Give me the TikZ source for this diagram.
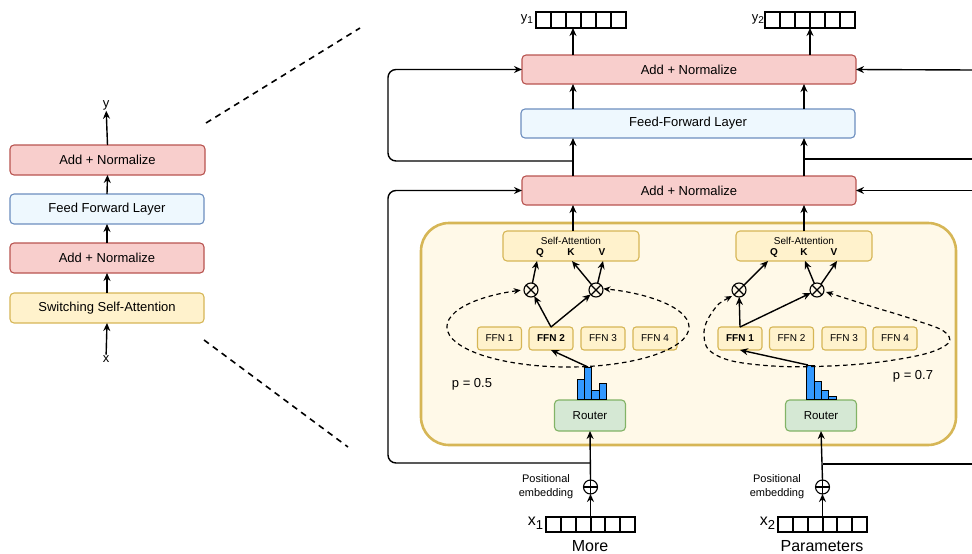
\documentclass[tikz,border=0pt]{standalone}
\usepackage{fontspec}
\setmainfont{Liberation Sans}
\usetikzlibrary{arrows.meta,calc}
\definecolor{redF}{HTML}{F8CECC}
\definecolor{redS}{HTML}{B85450}
\definecolor{bluF}{HTML}{EEF8FE}
\definecolor{bluS}{HTML}{6C8EBF}
\definecolor{yelF}{HTML}{FFF2CC}
\definecolor{yelS}{HTML}{D6B656}
\definecolor{conF}{HTML}{FFF9E8}
\definecolor{grnF}{HTML}{D5E8D4}
\definecolor{grnS}{HTML}{82B366}
\definecolor{barF}{HTML}{3399FF}
\newcommand\fsA{\fontsize{13pt}{15pt}\selectfont}
\newcommand\fsS{\fontsize{10pt}{12pt}\selectfont}
\newcommand\fsR{\fontsize{11.5pt}{13pt}\selectfont}
\newcommand\fsP{\fontsize{11pt}{14pt}\selectfont}
\newcommand\fsL{\fontsize{16pt}{18pt}\selectfont}
\newcommand\subY[1]{\raisebox{-0.35ex}{\fontsize{10pt}{10pt}\selectfont #1}}
\newcommand\subX[1]{\raisebox{-0.45ex}{\fontsize{13pt}{13pt}\selectfont #1}}
\begin{document}
\begin{tikzpicture}[x=1pt,y=-1pt,
  every node/.style={inner sep=0pt, outer sep=0pt, font=\fsA},
  box/.style={rounded corners=4pt, line width=1.1pt, minimum height=30pt, align=center},
  redbox/.style={box, draw=redS, fill=redF},
  blubox/.style={box, draw=bluS, fill=bluF},
  yelbox/.style={box, draw=yelS, fill=yelF},
  grnbox/.style={box, draw=grnS, fill=grnF, minimum width=71pt, minimum height=31pt, font=\fsR},
  ffnbox/.style={draw=yelS, fill=yelF, rounded corners=3pt, line width=1.1pt, minimum width=44pt, minimum height=23pt, font=\fsS},
  container/.style={draw=yelS, fill=conF, rounded corners=28pt, line width=2.6pt},
  arr/.style={-{Stealth[length=8pt,width=7pt]}, line width=1.4pt},
  plain/.style={line width=1.4pt},
  dasharr/.style={{Stealth[length=7pt,width=6pt]}-{Stealth[length=7pt,width=6pt]}, line width=1.2pt, dash pattern=on 4.5pt off 3.5pt},
  zoomline/.style={line width=1.6pt, dash pattern=on 6pt off 5pt},
  vecbox/.style={draw, line width=2pt, minimum height=15pt},
  otim/.style={circle, draw, line width=1.1pt, minimum size=14pt, fill=conF,
    path picture={\draw[line width=1.1pt] (path picture bounding box.north west) -- (path picture bounding box.south east);
                  \draw[line width=1.1pt] (path picture bounding box.north east) -- (path picture bounding box.south west);}},
  oplus/.style={circle, draw, line width=1.1pt, minimum size=14pt, fill=white,
    path picture={\draw[line width=1.1pt] (path picture bounding box.north) -- (path picture bounding box.south);
                  \draw[line width=1.1pt] (path picture bounding box.east) -- (path picture bounding box.west);}},
  bar/.style={draw=black, fill=barF, line width=1pt}
]
\useasboundingbox (0,0) rectangle (972,554);

% ---------------- left stack ----------------
\node[redbox, minimum width=195pt] (lan2) at (107.5,160) {Add + Normalize};
\node[blubox, minimum width=194pt] (lff) at (107,209) {Feed Forward Layer};
\node[redbox, minimum width=194pt] (lan1) at (107,258) {Add + Normalize};
\node[yelbox, minimum width=194pt] (lssa) at (107,308) {Switching Self-Attention};
\node[inner sep=1pt] (ly) at (106,105) {y};
\node[inner sep=1pt] (lx) at (106,359) {x};
\draw[arr] (lan2.north) -- (ly);
\draw[arr] (lff.north) -- (lan2.south);
\draw[arr] (lan1.north) -- (lff.south);
\draw[arr] (lssa.north) -- (lan1.south);
\draw[arr] (lx) -- (lssa.south);

\coordinate (z1a) at (206,123);
\coordinate (z1b) at (360,28);
\coordinate (z2a) at (204,340);
\coordinate (z2b) at (348,447);
\draw[zoomline] (z1a) -- (z1b);
\draw[zoomline] (z2a) -- (z2b);

% ---------------- right panel ----------------
\node[container, minimum width=535pt, minimum height=222pt] (cont) at (688.5,334) {};

\node[redbox, minimum width=334pt, minimum height=29pt] (atop) at (689,69.5) {Add + Normalize};
\node[blubox, minimum width=334pt, minimum height=29pt] (aff) at (688,123.5) {Feed-Forward Layer};
\node[redbox, minimum width=334pt, minimum height=29pt] (aadd2) at (689,190.5) {Add + Normalize};

\coordinate (lcol) at (573,0);
\coordinate (rcol) at (804,0);

% output vectors
\node[vecbox, minimum width=90pt, minimum height=16pt] (yv1) at (581,20) {};
\node[vecbox, minimum width=90pt, minimum height=16pt] (yv2) at (810,20) {};
\node[anchor=east] (yl1) at (533,19) {y\subY{1}};
\node[anchor=east] (yl2) at (764,19) {y\subY{2}};

% input vectors
\node[vecbox, minimum width=89pt] (xv1) at (590.5,524.5) {};
\node[vecbox, minimum width=89pt] (xv2) at (822.5,524.5) {};
\node[anchor=east, font=\fsL] (xl1) at (543,523) {x\subX{1}};
\node[anchor=east, font=\fsL] (xl2) at (775,523) {x\subX{2}};
\node[font=\fsL] (w1) at (590,546) {More};
\node[font=\fsL] (w2) at (822,546) {Parameters};

\foreach \v in {yv1,yv2,xv1,xv2}
  \foreach \i in {1,...,5}
    \draw[line width=2pt] ($(\v.north west)!\i/6!(\v.north east)$) -- ($(\v.south west)!\i/6!(\v.south east)$);

% positional embedding
\node[oplus] (pe1) at (590.5,487) {};
\node[oplus] (pe2) at (822.5,487) {};
\node[font=\fsP, align=center] (pt1) at (546,487) {Positional\\embedding};
\node[font=\fsP, align=center] (pt2) at (777,487) {Positional\\embedding};

% routers
\node[grnbox] (ro1) at (590,415.5) {Router};
\node[grnbox] (ro2) at (821,415.5) {Router};

\draw[arr] (xv1.north) -- (pe1.south);
\draw[arr] (pe1.north) -- (ro1.south);
\draw[arr] (xv2.north) -- (pe2.south);
\draw[arr] (pe2.north) -- (ro2.south);

% histograms
\draw[bar] (577.3,399) rectangle (584.3,379);
\draw[bar] (584.3,399) rectangle (591.7,367);
\draw[bar] (591.7,399) rectangle (599.3,390);
\draw[bar] (599.3,399) rectangle (606.7,383);
\draw[bar] (806.7,399) rectangle (814,365);
\draw[bar] (814,399) rectangle (821,381);
\draw[bar] (821,399) rectangle (828.3,390);
\draw[bar] (828.3,399) rectangle (836.7,396.5);
\coordinate (h1) at (588,367);
\coordinate (h2) at (808,365);

% FFN boxes
\node[ffnbox] (fa1) at (499.5,338.5) {FFN 1};
\node[ffnbox] (fa2) at (551,338.5) {\textbf{FFN 2}};
\node[ffnbox] (fa3) at (603,338.5) {FFN 3};
\node[ffnbox] (fa4) at (655,338.5) {FFN 4};
\node[ffnbox] (fb1) at (740,338.5) {\textbf{FFN 1}};
\node[ffnbox] (fb2) at (791.5,338.5) {FFN 2};
\node[ffnbox] (fb3) at (844,338.5) {FFN 3};
\node[ffnbox] (fb4) at (895,338.5) {FFN 4};

% self attention boxes
\node[yelbox, minimum width=136pt, minimum height=30pt] (saA) at (571,246) {};
\node[yelbox, minimum width=136pt, minimum height=30pt] (saB) at (804,246) {};
\node[font=\fsS] (saAt) at (571,240.5) {Self-Attention};
\node[font=\fsS] (saBt) at (804,240.5) {Self-Attention};
\node[font=\fsS\bfseries] (qA) at (540,252.5) {Q};
\node[font=\fsS\bfseries] (kA) at (571,252.5) {K};
\node[font=\fsS\bfseries] (vA) at (602,252.5) {V};
\node[font=\fsS\bfseries] (qB) at (774,252.5) {Q};
\node[font=\fsS\bfseries] (kB) at (804,252.5) {K};
\node[font=\fsS\bfseries] (vB) at (834,252.5) {V};
\coordinate (qAe) at (537,261);
\coordinate (kAe) at (572,261);
\coordinate (vAe) at (603,261);
\coordinate (qBe) at (768,261);
\coordinate (kBe) at (805,261);
\coordinate (vBe) at (837,261);

% dashed routing loops
\coordinate (elA) at (568,327);
\draw[dasharr] ($(elA)+(113:121pt and 40pt)$) arc[start angle=113, end angle=433, x radius=121pt, y radius=40pt];
\draw[dasharr] plot[smooth, tension=0.7] coordinates {(732,296) (713,311) (704,335) (716,355) (760,365) (830,366) (900,359) (943,347) (946,333) (915,320) (870,306) (826,292)};

% mixing circles
\node[otim] (oxA1) at (531,290) {};
\node[otim] (oxA2) at (596,290) {};
\node[otim] (oxB1) at (739,290) {};
\node[otim] (oxB2) at (817,290) {};

\draw[arr] (fa2.north) -- (oxA1);
\draw[arr] (fa2.north) -- (oxA2);
\draw[arr] (oxA1) -- (qAe);
\draw[arr] (oxA2) -- (kAe);
\draw[arr] (oxA2) -- (vAe);
\draw[arr] (fb1.north) -- (oxB1);
\draw[arr] (fb1.north) -- (oxB2);
\draw[arr] (oxB1) -- (qBe);
\draw[arr] (oxB2) -- (kBe);
\draw[arr] (oxB2) -- (vBe);
\draw[arr] (h1) -- (fa2.south);
\draw[arr] (h2) -- (fb1.south);

\node (pA) at (472,384) {p = 0.5};
\node (pB) at (913,376) {p = 0.7};

% main column arrows
\draw[arr] (saA.north -| lcol) -- (aadd2.south -| lcol);
\draw[arr] (aadd2.north -| lcol) -- (aff.south -| lcol);
\draw[arr] (aff.north -| lcol) -- (atop.south -| lcol);
\draw[arr] (atop.north -| lcol) -- (yv1.south -| lcol);
\draw[arr] (saB.north -| rcol) -- (aadd2.south -| rcol);
\draw[arr] (aadd2.north -| rcol) -- (aff.south -| rcol);
\draw[arr] (aff.north -| rcol) -- (atop.south -| rcol);
\draw[arr] (atop.north -| yv2.south) -- (yv2.south);

% residual connections
\coordinate (lbr) at (573,161);
\coordinate (lres) at (590.5,463);
\draw[arr, rounded corners=8pt] (lbr) -- (388,161) |- (atop.west);
\draw[arr, rounded corners=8pt] (lres) -- (388,463) |- (aadd2.west);
\coordinate (rin1) at (972,70);
\coordinate (rin2) at (972,159);
\coordinate (rbr) at (804,159);
\coordinate (rin3) at (972,190.5);
\coordinate (rres) at (822.5,464);
\coordinate (rin4) at (972,464);
\draw[arr] (rin1) -- (atop.east);
\draw[plain] (rin2) -- (rbr);
\draw[arr] (rin3) -- (aadd2.east);
\draw[plain] (rres) -- (rin4);
\end{tikzpicture}
\end{document}
